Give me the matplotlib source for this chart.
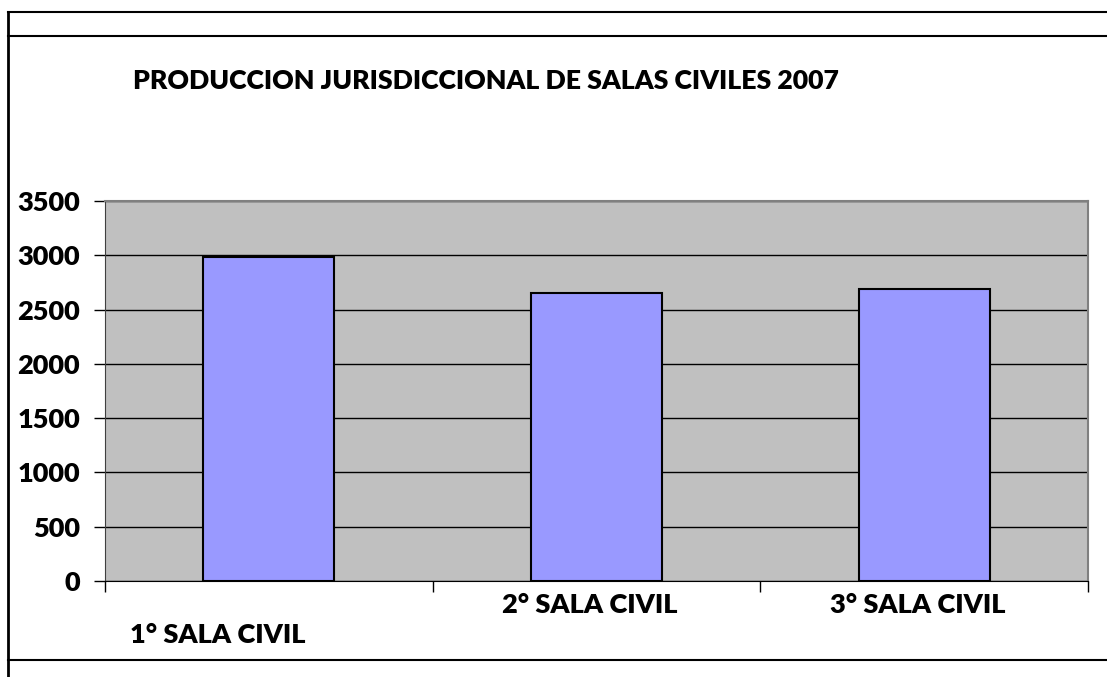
import matplotlib.pyplot as plt
from matplotlib.lines import Line2D

categorias = ['1° SALA CIVIL', '2° SALA CIVIL', '3° SALA CIVIL']
produccion = [2980, 2652, 2690]
yticks = [0, 500, 1000, 1500, 2000, 2500, 3000, 3500]
titulo = 'PRODUCCION JURISDICCIONAL DE SALAS CIVILES 2007'

fuente = 'Lato'
tam = 19.5
peso = 'heavy'

fig = plt.figure(figsize=(11.07, 6.77), dpi=100)
ax = fig.add_axes([105 / 1107, 1 - 581 / 677, 983 / 1107, 380 / 677])

x = list(range(len(categorias)))
ax.bar(x, produccion, width=0.4, color='#9999FF', edgecolor='black', linewidth=1.5, zorder=3)

ax.set_facecolor('#C0C0C0')
ax.set_xlim(-0.5, 2.5)
ax.set_ylim(0, 3500)
ax.set_yticks(yticks)
ax.set_yticklabels([str(v) for v in yticks], fontsize=tam, fontweight=peso, family=fuente)
ax.yaxis.grid(True, color='black', linewidth=1)
ax.set_axisbelow(True)
ax.set_xticks([-0.5, 0.5, 1.5, 2.5])
ax.set_xticklabels([])
ax.tick_params(axis='both', length=8, width=1, color='black')
ax.tick_params(axis='y', pad=10)

for lado in ['top', 'right']:
    ax.spines[lado].set_color('#808080')
    ax.spines[lado].set_linewidth(1.5)
ax.spines['left'].set_color('#404040')
ax.spines['bottom'].set_color('black')

# etiquetas de categoria (la primera queda mas abajo, como en el original)
desplaz = [-0.155, -0.02, -0.02]
alto = [635, 605, 605]
for i, nombre in enumerate(categorias):
    fig.text((105 + (i + 0.5 + desplaz[i]) * 983 / 3) / 1107, 1 - alto[i] / 677, nombre,
             ha='center', va='center', fontsize=tam, fontweight=peso, family=fuente)

fig.text(133 / 1107, 1 - 81 / 677, titulo, ha='left', va='center',
         fontsize=19.2, fontweight=peso, family=fuente)

# marco
for y in [12, 36, 660]:
    fig.add_artist(Line2D([8 / 1107, 1], [1 - y / 677, 1 - y / 677], color='black', linewidth=1.5))
fig.add_artist(Line2D([8 / 1107, 8 / 1107], [1 - 12 / 677, 0], color='black', linewidth=2))

fig.savefig('out.png', dpi=100)
